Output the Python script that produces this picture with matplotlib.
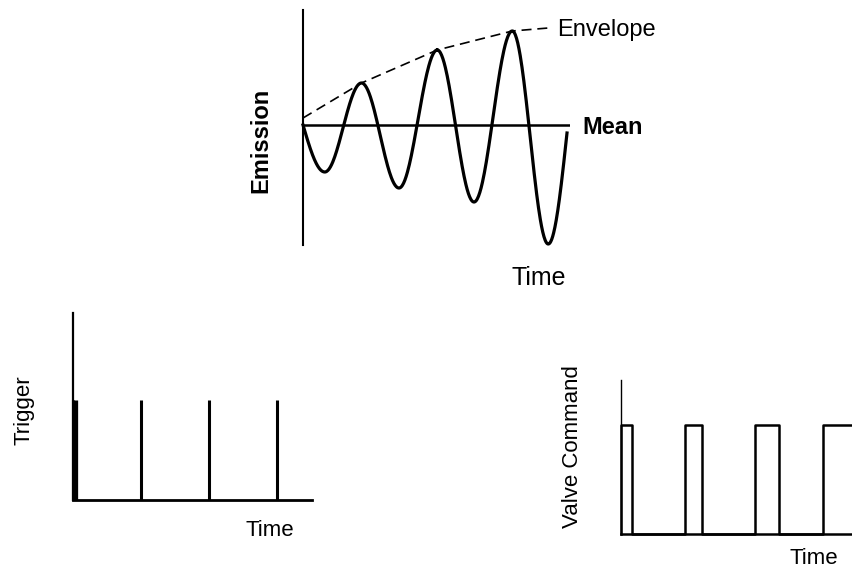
import numpy as np
import matplotlib.pyplot as plt

plt.rcParams['font.family'] = ['Liberation Sans', 'DejaVu Sans']

# Emission: turning points of the growing oscillation (time in cycles, emission about the mean)
wave_t = [0.0, 0.29, 0.78, 1.28, 1.79, 2.28, 2.79, 3.27, 3.52]
wave_e = [0.0, -4.7, 4.2, -6.3, 7.5, -7.7, 9.4, -11.9, -0.8]

# envelope drawn over the crests
env_t = [0.0, 0.78, 1.79, 2.79, 3.27]
env_e = [0.7, 4.2, 7.5, 9.4, 9.7]

# trigger pulses, one per cycle
trig_t = [0, 1, 2, 3]
trig_h = 1.0

# valve command: open / close times
valve_on = [0.0, 0.94, 1.97, 2.97]
valve_off = [0.16, 1.19, 2.32, 3.60]
valve_h = 1.0

W, H = 853, 571


def smooth_wave(t, e, n=60):
    # join the turning points with cosine-shaped segments
    xs, ys = [], []
    last = len(t) - 2
    for i in range(len(t) - 1):
        s = np.linspace(0, 1, n)
        if i == 0:
            w = np.sin(np.pi / 2 * s)
        elif i == last:
            w = 1 - np.cos(np.pi / 2 * s)
        else:
            w = (1 - np.cos(np.pi * s)) / 2
        xs.append(t[i] + (t[i + 1] - t[i]) * s)
        ys.append(e[i] + (e[i + 1] - e[i]) * w)
    return np.concatenate(xs), np.concatenate(ys)


fig = plt.figure(figsize=(W / 100, H / 100), dpi=100)
fig.patch.set_facecolor('white')


def px_axes(left, top, right, bottom):
    return fig.add_axes([left / W, 1 - bottom / H, (right - left) / W, (bottom - top) / H])


def label(x, y, s, **kw):
    fig.text(x / W, 1 - y / H, s, ha=kw.pop('ha', 'center'), va='center', **kw)


def bare(ax, left_lw, bottom_lw=None):
    ax.set_xticks([])
    ax.set_yticks([])
    ax.patch.set_alpha(0)
    for side in ['top', 'right']:
        ax.spines[side].set_visible(False)
    ax.spines['left'].set_linewidth(left_lw)
    if bottom_lw is None:
        ax.spines['bottom'].set_visible(False)
    else:
        ax.spines['bottom'].set_linewidth(bottom_lw)


# --- emission vs time ---
ax1 = px_axes(303, 10, 570, 245)
bare(ax1, 1.5)
ax1.set_xlim(0, 267 / 75)
ax1.set_ylim(-12.0, 11.5)
ax1.axhline(0, color='k', lw=1.8)
x, y = smooth_wave(wave_t, wave_e)
ax1.plot(x, y, color='k', lw=2.3, clip_on=False)
ax1.plot(env_t, env_e, color='k', lw=1.2, dashes=(6, 3.5))

label(261, 140, 'Emission', rotation=90, fontsize=17, fontweight='bold')
label(582, 127, 'Mean', ha='left', fontsize=17, fontweight='bold')
label(557, 30, 'Envelope', ha='left', fontsize=17)
label(539, 278, 'Time', fontsize=18)

# --- trigger ---
ax2 = px_axes(73, 313, 312, 500)
bare(ax2, 1.6, 2.0)
ax2.set_xlim(0, 239 / 68)
ax2.set_ylim(0, 187 / 100)
ax2.vlines(trig_t, 0, trig_h, colors='k', lw=2.2, clip_on=False)
# first pulse sits on the axis and is drawn heavier
ax2.vlines(trig_t[0] + 0.03, 0, trig_h, colors='k', lw=3.8, clip_on=False)

label(24, 410, 'Trigger', rotation=90, fontsize=16)
label(270, 531, 'Time', fontsize=16)

# --- valve command ---
ax3 = px_axes(621, 380, 853, 534)
bare(ax3, 1.0, 1.8)
ax3.set_xlim(0, 232 / 68)
ax3.set_ylim(0, 154 / 109)
vx, vy = [], []
for on, off in zip(valve_on, valve_off):
    vx += [on, on, off, off]
    vy += [0, valve_h, valve_h, 0]
ax3.plot(vx, vy, color='k', lw=1.8, clip_on=False)

label(573, 447, 'Valve Command', rotation=90, fontsize=16)
label(814, 559, 'Time', fontsize=16)

fig.savefig('out.png', dpi=100)
